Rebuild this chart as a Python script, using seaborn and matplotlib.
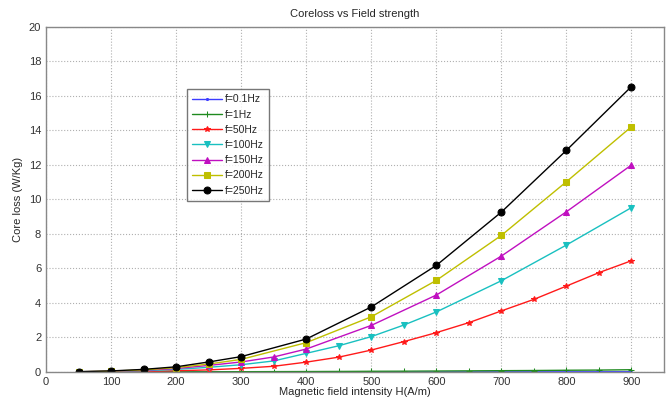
import matplotlib
matplotlib.use("Agg")
import matplotlib.pyplot as plt
import seaborn as sns
import pandas as pd

# ── Data ───────────────────────────────────────────────────────────────────────
x_fine = [50, 100, 150, 200, 250, 300, 350, 400, 450, 500,
          550, 600, 650, 700, 750, 800, 850, 900]
x_k    = [50, 100, 150, 200, 250, 300, 400, 500, 600, 700, 800, 900]
x_m    = [50, 100, 150, 200, 250, 300, 350, 400, 500, 600, 700, 800, 900]
x_c    = [50, 100, 150, 200, 250, 300, 350, 400, 450, 500, 550, 600, 700, 800, 900]

loss_01hz  = [0.0, 0.0, 0.0, 0.0, 0.001, 0.001, 0.002, 0.002, 0.003, 0.004,
              0.005, 0.005, 0.006, 0.007, 0.008, 0.009, 0.010, 0.012]
loss_1hz   = [0.0, 0.0, 0.005, 0.008, 0.01, 0.015, 0.02, 0.025, 0.03, 0.04,
              0.045, 0.055, 0.065, 0.075, 0.085, 0.1, 0.11, 0.13]
loss_50hz  = [0.0, 0.01, 0.03, 0.07, 0.12, 0.21, 0.33, 0.57, 0.86, 1.27,
              1.76, 2.28, 2.86, 3.54, 4.21, 4.98, 5.76, 6.45]
loss_100hz = [0.01, 0.03, 0.07, 0.15, 0.27, 0.42, 0.64, 1.08, 1.52, 2.05,
              2.72, 3.48, 5.29, 7.36, 9.53]
loss_150hz = [0.01, 0.04, 0.10, 0.20, 0.38, 0.58, 0.87, 1.33, 2.70, 4.46,
              6.72, 9.29, 12.0]
loss_200hz = [0.01, 0.05, 0.12, 0.25, 0.46, 0.73, 1.70, 3.20, 5.31, 7.92,
              11.03, 14.22]
loss_250hz = [0.02, 0.06, 0.15, 0.30, 0.58, 0.89, 1.91, 3.77, 6.18, 9.27,
              12.85, 16.55]

labels = ["f=0.1Hz", "f=1Hz", "f=50Hz", "f=100Hz", "f=150Hz", "f=200Hz", "f=250Hz"]
xs     = [x_fine, x_fine, x_fine, x_c, x_m, x_k, x_k]
ys     = [loss_01hz, loss_1hz, loss_50hz, loss_100hz, loss_150hz, loss_200hz, loss_250hz]

# ── Style ──────────────────────────────────────────────────────────────────────
colors  = ["#3c3cff", "#1f8a1f", "#ff1a1a", "#19c0c0", "#c010c0", "#bfbf00", "#000000"]
markers = [".", "+", "*", "v", "^", "s", "o"]
msizes  = [3, 5, 4, 5, 5, 4.5, 5]

sns.set_style("white")
plt.rcParams["font.family"] = ["Liberation Sans", "DejaVu Sans"]

fig = plt.figure(figsize=(6.68, 4.03), dpi=100)
ax = fig.add_axes([0.069, 0.077, 0.925, 0.856])

for lab, x, y, col, mk, ms in zip(labels, xs, ys, colors, markers, msizes):
    df = pd.DataFrame({"H": x, "loss": y})
    sns.lineplot(data=df, x="H", y="loss", ax=ax, color=col, marker=mk,
                 markersize=ms, markeredgecolor=col, markerfacecolor=col,
                 linewidth=1.0, label=lab)

ax.set_xlim(0, 950)
ax.set_ylim(0, 20)
ax.set_xticks(range(0, 901, 100))
ax.set_yticks(range(0, 21, 2))
ax.grid(True, linestyle=":", color="#b0b0b0", linewidth=0.8)
ax.tick_params(direction="in", labelsize=8, length=3, colors="#333333")
for s in ax.spines.values():
    s.set_color("#888888")
    s.set_linewidth(1.0)

ax.set_title("Coreloss vs Field strength", fontsize=8, pad=7)
ax.set_xlabel("Magnetic field intensity H(A/m)", fontsize=8, labelpad=0)
ax.set_ylabel("Core loss (W/Kg)", fontsize=8, labelpad=4)

ax.legend(loc="upper left", bbox_to_anchor=(182 / 668, 1 - 84 / 403),
          bbox_transform=fig.transFigure, fontsize=7.5, frameon=True,
          fancybox=False, edgecolor="#555555", handlelength=2.8,
          labelspacing=0.5, borderpad=0.5, handletextpad=0.3)

fig.savefig("out.png", dpi=100)
